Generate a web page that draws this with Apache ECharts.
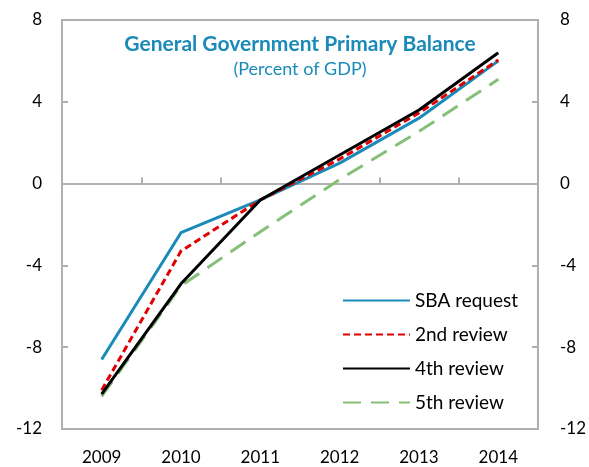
<!DOCTYPE html>
<html>
<head>
<meta charset="utf-8">
<script src="https://cdn.jsdelivr.net/npm/echarts@6/dist/echarts.min.js"></script>
<style>
  html, body { margin: 0; padding: 0; background: #fff; }
  #chart { width: 589px; height: 467px; }
</style>
</head>
<body>
<div id="chart"></div>
<script>
// General Government Primary Balance, percent of GDP
const years = ["2009", "2010", "2011", "2012", "2013", "2014"];
const sbaRequest = [-8.6, -2.4, -0.8, 1.0, 3.2, 6.0];
const review2 = [-10.1, -3.3, -0.8, 1.2, 3.45, 6.05];
const review4 = [-10.3, -4.9, -0.8, 1.4, 3.6, 6.4];
const review5 = [-10.4, -5.0, -2.35, 0.2, 2.55, 5.1];
const yTicks = { min: -12, max: 8, interval: 4 };

const FONT = "Lato";
const AXIS_GREY = "#b0b0b0";
const TITLE_BLUE = "#1a8ab8";

const chart = echarts.init(document.getElementById("chart"));

function lineSeries(name, data, color, dash) {
  return {
    name: name,
    type: "line",
    xAxisIndex: 0,
    yAxisIndex: 0,
    data: data,
    symbol: "none",
    lineStyle: { color: color, width: 3, type: dash },
    itemStyle: { color: color },
  };
}

const option = {
  animation: false,
  title: {
    text: "General Government Primary Balance",
    subtext: "(Percent of GDP)",
    left: 295,
    textAlign: "center",
    top: 29,
    itemGap: 5,
    textStyle: { fontFamily: FONT, fontSize: 21, fontWeight: "bold", color: TITLE_BLUE },
    subtextStyle: { fontFamily: FONT, fontSize: 18, color: TITLE_BLUE },
  },
  legend: {
    orient: "vertical",
    left: 337,
    top: 286,
    itemWidth: 67,
    itemHeight: 14,
    itemGap: 15,
    itemStyle: { opacity: 0 },
    textStyle: { fontFamily: FONT, fontSize: 19, color: "#000" },
    data: ["SBA request", "2nd review", "4th review", "5th review"],
  },
  grid: {
    left: 62,
    right: 50,
    top: 20,
    bottom: 38,
    show: true,
    borderColor: AXIS_GREY,
    borderWidth: 2,
  },
  xAxis: [
    {
      type: "category",
      data: years,
      boundaryGap: true,
      axisLine: { onZero: false, lineStyle: { color: AXIS_GREY, width: 2 } },
      axisTick: { show: false },
      axisLabel: { fontFamily: FONT, fontSize: 17, color: "#000", margin: 20 },
    },
    {
      type: "category",
      data: years,
      position: "bottom",
      boundaryGap: true,
      axisLine: { onZero: true, onZeroAxisIndex: 0, lineStyle: { color: AXIS_GREY, width: 2 } },
      axisTick: { show: true, inside: true, length: 6, lineStyle: { color: AXIS_GREY, width: 2 } },
      axisLabel: { show: false },
    },
  ],
  yAxis: [
    {
      type: "value",
      position: "left",
      min: yTicks.min,
      max: yTicks.max,
      interval: yTicks.interval,
      splitLine: { show: false },
      axisLine: { show: true, lineStyle: { color: AXIS_GREY, width: 2 } },
      axisTick: { show: true, inside: true, length: 6, lineStyle: { color: AXIS_GREY, width: 2 } },
      axisLabel: { fontFamily: FONT, fontSize: 17, color: "#000", margin: 20 },
    },
    {
      type: "value",
      position: "right",
      min: yTicks.min,
      max: yTicks.max,
      interval: yTicks.interval,
      splitLine: { show: false },
      axisLine: { show: true, lineStyle: { color: AXIS_GREY, width: 2 } },
      axisTick: { show: true, inside: true, length: 6, lineStyle: { color: AXIS_GREY, width: 2 } },
      axisLabel: { fontFamily: FONT, fontSize: 17, color: "#000", margin: 22 },
    },
  ],
  series: [
    lineSeries("5th review", review5, "#86bf78", [18, 10]),
    lineSeries("SBA request", sbaRequest, "#1a8ab8", "solid"),
    lineSeries("2nd review", review2, "#e00000", [7, 4]),
    lineSeries("4th review", review4, "#000000", "solid"),
  ],
};

chart.setOption(option);
</script>
</body>
</html>
